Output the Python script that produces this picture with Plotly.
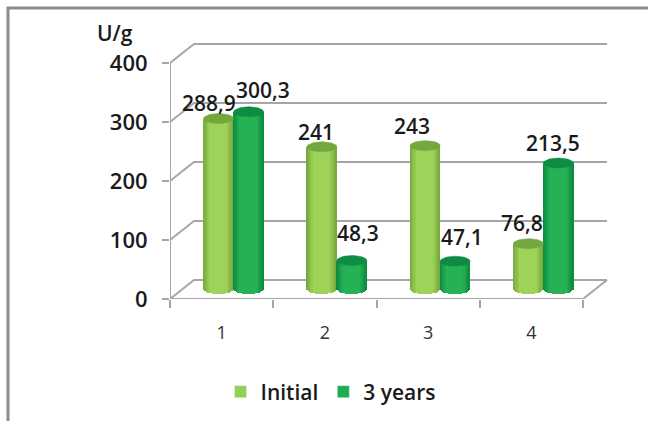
import numpy as np
import plotly.graph_objects as go

# Enzyme activity per sample, with 3D-style cylinders on a flat cartesian plot
categories = [1, 2, 3, 4]
initial_values = [288.9, 241, 243, 76.8]
three_year_values = [300.3, 48.3, 47.1, 213.5]
y_ticks = [0, 100, 200, 300, 400]

# Chart geometry, in data units
DEPTH_X = 24 / 103.25
DEPTH_Y = 19 / 0.59
FLOOR_X = 12 / 103.25
FLOOR_Y = 10 / 0.59
BAR_W = 30 / 103.25
CAP_H = 5 / 0.59
SLICES = 24
GRID = "#a6a6a6"
FONT = "Open Sans"
TEXT = "#1a1a1a"


def px_x(px):
    """Paper x for a canvas pixel column (plot area spans 170 to 609)."""
    return (px - 170) / 439


def px_y(py):
    """Paper y for a canvas pixel row (plot area spans 43 to 299)."""
    return (299 - py) / 256


def mix(a, b, t):
    rgb = [round(a[i] + (b[i] - a[i]) * t) for i in range(3)]
    return f"rgb({rgb[0]},{rgb[1]},{rgb[2]})"


def cylinder(fig, centers, values, edge, mid, cap, name, swatch):
    """Draw one series as vertical strips with elliptical tops and bases."""
    fig.add_trace(go.Bar(x=[None], y=[None], name=name, marker_color=swatch, showlegend=True))
    w = BAR_W / SLICES
    for i in range(SLICES):
        u = (i + 0.5) / SLICES * 2 - 1
        arc = CAP_H * np.sqrt(1 - u * u)
        shade = mix(edge, mid, min(1, (1 - abs(u)) * 2.2))
        fig.add_trace(go.Bar(
            x=[c + u * BAR_W / 2 for c in centers],
            y=[v + arc for v in values],
            base=[FLOOR_Y - arc] * len(values),
            width=w * 1.15,
            marker=dict(color=shade, line_width=0),
            showlegend=False,
            hoverinfo="skip",
        ))
    t = np.linspace(0, 2 * np.pi, 60)
    for c, v in zip(centers, values):
        fig.add_trace(go.Scatter(
            x=c + np.cos(t) * BAR_W / 2,
            y=v + FLOOR_Y + np.sin(t) * CAP_H,
            mode="lines", fill="toself", fillcolor=cap,
            line=dict(color=cap, width=0.5),
            showlegend=False, hoverinfo="skip",
        ))


fig = go.Figure()
initial_centers = [c + FLOOR_X - BAR_W / 2 for c in categories]
three_year_centers = [c + FLOOR_X + BAR_W / 2 for c in categories]
cylinder(fig, initial_centers, initial_values, (118, 166, 60), (158, 210, 88), "#74a83f", "Initial", "#92d050")
cylinder(fig, three_year_centers, three_year_values, (12, 136, 62), (38, 178, 84), "#0f8c43", "3 years", "#1fae4f")

# Wall gridlines, floor outline and axis line
LEFT, RIGHT = 0.5, 4.5
line = dict(color=GRID, width=2)
shapes = []
for tick in y_ticks:
    path = f"M {LEFT},{tick} L {LEFT + DEPTH_X},{tick + DEPTH_Y} L {RIGHT + DEPTH_X},{tick + DEPTH_Y}"
    shapes.append(dict(type="path", path=path, xref="x", yref="y", line=line, layer="below"))
shapes.append(dict(type="path", xref="x", yref="y", layer="below", line=line,
                   path=f"M {LEFT},0 L {RIGHT},0 L {RIGHT + DEPTH_X},{DEPTH_Y}"))
shapes.append(dict(type="line", xref="x", yref="y", x0=LEFT, x1=LEFT, y0=0, y1=400, line=line, layer="below"))

# Picture frame on the left and top edges
frame = dict(color="#8c8c8c", width=3)
shapes.append(dict(type="path", xref="paper", yref="paper", line=frame,
                   path=f"M {px_x(8)},{px_y(421)} L {px_x(8)},{px_y(8)} L {px_x(648)},{px_y(8)}"))

# Value labels sit beside the cylinder tops
initial_dx = [-10, -6, -13, -6]
initial_dy = [16, 15, 20, 21]
three_year_dx = [14, 6, 7, -5]
three_year_dy = [22, 28, 24, 20]
annotations = []
for c, v, dx, dy in zip(initial_centers + three_year_centers,
                        initial_values + three_year_values,
                        initial_dx + three_year_dx,
                        initial_dy + three_year_dy):
    annotations.append(dict(
        x=c, y=v + FLOOR_Y, xref="x", yref="y", text=f"{v:g}".replace(".", ","),
        showarrow=False, xshift=dx, yshift=dy,
        font=dict(family=FONT, size=21, color=TEXT, weight=600),
    ))
annotations.append(dict(x=px_x(115), y=px_y(33), xref="paper", yref="paper",
                        xanchor="center", yanchor="middle",
                        text="U/g", showarrow=False,
                        font=dict(family=FONT, size=21, color=TEXT, weight=600)))

fig.update_layout(
    width=648, height=421, autosize=False,
    margin=dict(l=170, r=39, t=43, b=122, autoexpand=False),
    paper_bgcolor="white", plot_bgcolor="white",
    barmode="overlay", bargap=0,
    shapes=shapes, annotations=annotations,
    legend=dict(orientation="h", xref="container", yref="container",
                x=331 / 648, xanchor="center", y=1 - 392 / 421, yanchor="middle",
                font=dict(family=FONT, size=21, color=TEXT, weight=600), traceorder="normal"),
    xaxis=dict(
        range=[0.5, 0.5 + 439 / 103.25], tickvals=categories, ticktext=[str(c) for c in categories],
        showgrid=False, zeroline=False, showline=False, ticks="", ticklabelstandoff=21,
        tickfont=dict(family=FONT, size=18, color="#333333"),
        minor=dict(tickvals=[0.5, 1.5, 2.5, 3.5, 4.5], ticks="outside", ticklen=8, tickwidth=2, tickcolor=GRID, showgrid=False),
    ),
    yaxis=dict(
        range=[0, 256 / 0.59], tickvals=y_ticks, showgrid=False, zeroline=False, showline=False,
        ticks="outside", ticklen=7, tickwidth=2, tickcolor=GRID, ticklabelstandoff=10,
        tickfont=dict(family=FONT, size=22, color=TEXT, weight=600),
    ),
)

fig.write_html("out.html")
